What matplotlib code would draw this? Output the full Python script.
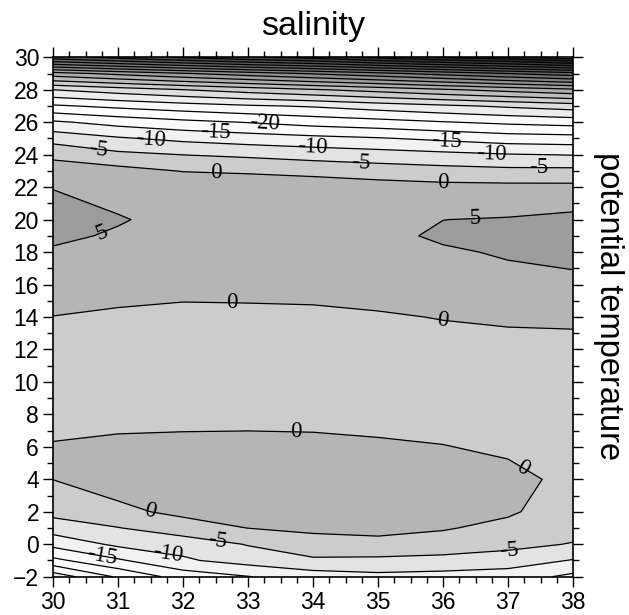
import numpy as np
import matplotlib
matplotlib.use("Agg")
import matplotlib.pyplot as plt
from matplotlib.ticker import MultipleLocator

# grid
salinity = [30, 31, 32, 33, 34, 35, 36, 37, 38]
theta = [-2, -1, 0, 1, 2, 4, 6, 8, 10, 12, 14, 16, 18, 19, 20, 22, 23, 24, 25, 26, 27, 28, 29, 30]

# field value in each salinity column, from theta=-2 up to theta=30
s30 = [-33, -21.3, -13.5, -7.6, -3.5, 0.05, 0.3, -1.5, -2.0, -1.5, -0.1, 3.0, 4.7, 5.5, 6.2, 4.9, 2.5, -1.2, -6.9, -14.2, -24.3, -35, -53, -83]
s31 = [-24.3, -15.7, -9.0, -5.2, -1.0, 2.0, 1.33, -2.0, -2.5, -2.0, -0.9, 2.2, 4.2, 4.7, 5.2, 4.0, 1.67, -3.9, -9.4, -16.8, -26.2, -37.5, -56.3, -86.9]
s32 = [-17.9, -10.7, -8.0, -2.0, 1.0, 2.0, 1.74, -2.0, -2.8, -2.4, -1.2, 1.4, 3.8, 4.0, 4.2, 3.8, -0.2, -5.05, -11.2, -18.7, -27.9, -39.9, -59.5, -90.8]
s33 = [-15.2, -8.0, -4.7, 0.05, 1.5, 2.0, 1.83, -1.9, -3.0, -2.5, -1.2, 1.6, 3.8, 4.0, 4.1, 3.5, -0.75, -5.9, -12.5, -20.2, -29.4, -42.2, -62.5, -94.4]
s34 = [-12.5, -6.0, -1.0, 0.5, 1.3, 2.0, 1.64, -2.0, -3.0, -2.5, -1.2, 2.0, 4.0, 4.0, 4.3, 3.2, -1.7, -6.9, -13.6, -22.0, -30.5, -44.5, -65.5, -97.0]
s35 = [-11.3, -6.2, -0.8, 0.8, 1.3, 1.6, 0.82, -2.0, -2.9, -2.3, -0.5, 2.2, 3.8, 4.0, 4.5, 2.05, -2.5, -7.8, -14.6, -23.2, -32.4, -46.8, -68.5, -101.6]
s36 = [-11.7, -6.8, -1.6, 0.3, 1.0, 1.0, 0.16, -2.0, -2.7, -1.8, 0.2, 3.2, 4.5, 5.6, 4.97, 1.37, -3.2, -8.75, -16.0, -24.7, -34.1, -49.3, -71.8, -105.5]
s37 = [-12.5, -7.5, -3.5, -1.0, 0.5, 1.33, -0.8, -2.0, -2.5, -2.0, 0.9, 3.8, 5.4, 5.8, 5.3, 1.25, -3.75, -9.7, -17.5, -26.0, -35.8, -51.7, -75.0, -108.5]
s38 = [-16.2, -10.3, -5.3, -3.0, -2.0, -1.2, -1.5, -2.0, -2.5, -2.0, 1.2, 4.5, 5.6, 6.0, 6.2, 1.2, -3.75, -10.2, -18.0, -27.0, -37.5, -54.0, -78.0, -113.0]

levels = list(range(-110, 15, 5))
label_levels = [-20, -15, -10, -5, 0, 5]

Z = np.column_stack([s30, s31, s32, s33, s34, s35, s36, s37, s38])

# gray shade for each band, lowest band first
grays = ['0.15', '0.19', '0.23', '0.27', '0.31', '0.35', '0.40', '0.45', '0.50',
         '0.56', '0.62', '0.68', '0.74', '0.80', '0.87', '0.93', '0.98', '1.0',
         '0.98', '0.95', '0.89', '0.80', '0.71', '0.61']

plt.rcParams['font.family'] = ['Liberation Sans', 'DejaVu Sans']

fig = plt.figure(figsize=(6.29, 6.15), dpi=100)
ax = fig.add_axes([53/629, 1-576.7/615, 520/629, 519.4/615])

ax.contourf(salinity, theta, Z, levels=levels, colors=grays)
other_levels = [l for l in levels if l not in label_levels]
ax.contour(salinity, theta, Z, levels=other_levels, colors='k', linewidths=0.9, linestyles='solid')
cs = ax.contour(salinity, theta, Z, levels=label_levels, colors='k', linewidths=0.9, linestyles='solid')

label_pos = [(30.7, 24.3), (31.5, 24.9), (32.5, 25.4), (33.25, 25.83), (32.5, 22.9),
             (34.0, 24.5), (34.74, 23.57), (36.05, 24.9), (36.0, 22.3), (36.75, 24.1),
             (37.48, 23.16), (30.75, 19.16), (36.5, 20.08), (32.75, 14.88), (36.0, 13.82),
             (33.74, 6.83), (37.25, 4.88), (31.49, 2.06), (32.51, -0.15), (31.77, -0.66),
             (30.75, -0.87), (37.02, -0.46)]
texts = ax.clabel(cs, manual=label_pos, inline=False, fmt='%d', fontsize=16.5, colors='k')
for t in texts:
    t.set_fontfamily('Liberation Serif')

ax.set_xlim(30, 38)
ax.set_ylim(-2, 30)
ax.xaxis.set_major_locator(MultipleLocator(1))
ax.xaxis.set_minor_locator(MultipleLocator(0.25))
ax.yaxis.set_major_locator(MultipleLocator(2))
ax.yaxis.set_minor_locator(MultipleLocator(1))
ax.tick_params(which='both', direction='out', top=True, right=True, width=1)
ax.tick_params(which='major', length=7, labelsize=16.5, pad=3)
ax.tick_params(which='minor', length=4.5)
for sp in ax.spines.values():
    sp.set_linewidth(1.2)

fig.text(313/629, 1-35/615, 'salinity', ha='center', va='baseline', fontsize=24.5)
fig.text(0.968, 0.502, 'potential temperature', rotation=-90, ha='center', va='center', fontsize=23.5)

fig.savefig('out.png', dpi=100)
